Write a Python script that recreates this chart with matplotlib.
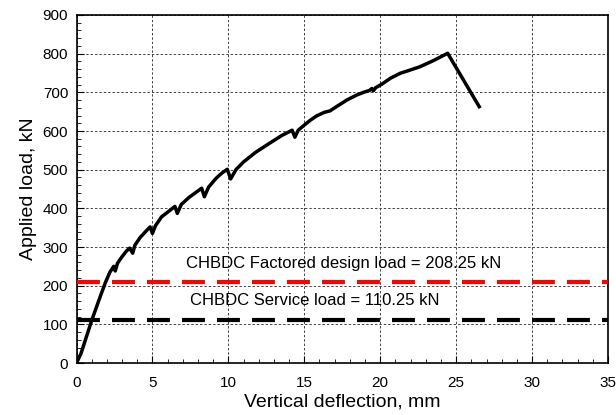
import numpy as np
import matplotlib.pyplot as plt
from matplotlib.ticker import MultipleLocator

# Load-deflection curve
deflection = [0, 0.3, 1.0, 1.5, 1.9, 2.2, 2.45, 2.55, 2.7, 3.0, 3.3, 3.5, 3.7, 3.85,
              4.2, 4.6, 4.85, 5.0, 5.2, 5.6, 6.0, 6.48, 6.64, 6.9, 7.4, 8.24, 8.42,
              8.7, 9.2, 9.6, 9.93, 10.15, 10.5, 11.0, 11.8, 12.7, 13.5, 14.2, 14.38,
              14.6, 14.93, 15.4, 15.81, 16.3, 16.69, 17.2, 17.8, 18.45, 18.9, 19.3,
              19.45, 19.55, 19.7, 20.1, 20.7, 21.3, 22.0, 22.6, 23.5, 24.44, 26.52]
load = [0, 25, 110, 165, 208, 235, 250, 238, 258, 275, 290, 297, 284, 305,
        325, 342, 352, 335, 355, 378, 390, 405, 387, 410, 428, 452, 430,
        455, 478, 492, 501, 476, 500, 520, 545, 568, 588, 602, 584,
        602, 613, 628, 639, 648, 652, 665, 680, 693, 700, 705,
        710, 704, 712, 721, 737, 749, 758, 766, 782, 801, 663]

factored_load = 208.25
service_load = 110.25

plt.rcParams['font.family'] = ['Liberation Sans', 'DejaVu Sans']

fig = plt.figure(figsize=(6.16, 4.15), dpi=100)
ax = fig.add_axes([76.5 / 616, 1 - 363 / 415, (608 - 76.5) / 616, (363 - 15) / 415])

ax.plot(deflection, load, color='black', lw=2.5, zorder=4)
ax.axhline(factored_load, color='#ff0000', lw=3, dashes=(5.5, 2.9), zorder=3)
ax.axhline(service_load, color='black', lw=3, dashes=(5.5, 2.9), zorder=3)

ax.text(17.6, 258, 'CHBDC Factored design load = 208.25 kN', ha='center', va='center', fontsize=12)
ax.text(15.7, 161, 'CHBDC Service load = 110.25 kN', ha='center', va='center', fontsize=12)

ax.set_xlim(0, 35)
ax.set_ylim(0, 900)
ax.xaxis.set_major_locator(MultipleLocator(5))
ax.xaxis.set_minor_locator(MultipleLocator(1))
ax.yaxis.set_major_locator(MultipleLocator(100))
ax.yaxis.set_minor_locator(MultipleLocator(20))
ax.tick_params(which='both', direction='in', labelsize=11)
ax.tick_params(which='major', length=5)
ax.tick_params(which='minor', length=3)
ax.tick_params(axis='x', which='major', pad=9)
ax.tick_params(axis='y', which='major', pad=6)
ax.grid(True, which='major', color='#444444', linestyle=(0, (2.5, 2)), lw=0.7)

for s in ax.spines.values():
    s.set_linewidth(1.2)

ax.set_xlabel('Vertical deflection, mm', fontsize=14, labelpad=3)
ax.set_ylabel('Applied load, kN', fontsize=14, labelpad=4)

fig.savefig('out.png', dpi=100)
